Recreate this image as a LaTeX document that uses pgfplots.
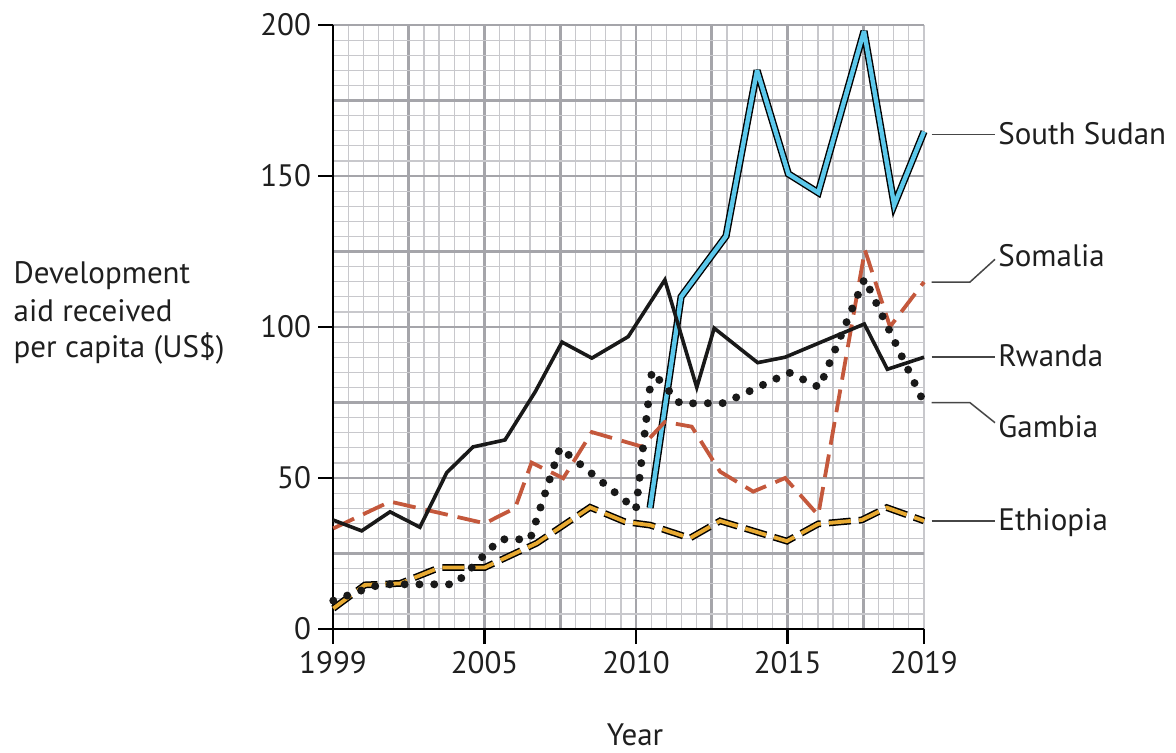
\documentclass[border=0pt]{standalone}
\usepackage{fontspec}
\setmainfont{PT Sans}
\usepackage{pgfplots}
\pgfplotsset{compat=1.18}
\usepackage{pgfplotstable}

\definecolor{gridmaj}{RGB}{165,165,170}
\definecolor{gridmin}{RGB}{200,200,204}
\definecolor{sscyan}{RGB}{92,200,235}
\definecolor{somred}{RGB}{196,88,60}
\definecolor{ethorange}{RGB}{232,170,50}
\definecolor{leader}{RGB}{70,70,70}

\pgfplotstableread{
x y
1999.00 36.1
1999.97 32.5
2000.93 38.8
2001.94 33.7
2002.85 51.8
2003.74 60.3
2004.82 62.6
2005.84 78.5
2006.75 95.0
2007.76 89.7
2008.99 96.8
2010.23 115.6
2011.31 80.0
2011.90 99.6
2013.37 88.2
2014.30 90.0
2016.98 101.0
2017.76 86.0
2019.00 90.0
}\rwanda

\pgfplotstableread{
x y
2009.73 40.1
2010.78 110.0
2012.30 130.1
2013.35 185.0
2014.41 150.7
2015.42 144.5
2016.97 198.0
2017.99 140.4
2019.00 164.7
}\southsudan

\pgfplotstableread{
x y
1999.01 33.3
2000.93 42.2
2004.14 35.0
2005.16 40.0
2005.72 55.1
2006.79 49.9
2007.76 65.2
2009.45 60.4
2010.23 68.6
2011.14 67.0
2012.10 52.1
2013.22 45.5
2014.30 50.0
2015.42 37.7
2017.00 125.5
2017.85 100.1
2019.00 114.9
}\somalia

\pgfplotstableread{
x y
1999.01 9.4
2000.31 14.0
2000.76 14.8
2003.13 14.8
2004.65 29.7
2005.67 29.7
2006.68 60.0
2009.25 39.6
2009.79 85.3
2010.74 74.7
2012.23 74.8
2014.44 84.9
2015.46 80.0
2016.99 116.0
2018.98 75.3
}\gambia

\pgfplotstableread{
x y
1999.01 6.8
2000.08 14.6
2001.27 15.1
2002.62 20.4
2004.14 20.4
2005.89 28.4
2007.70 40.3
2008.88 35.5
2009.73 34.4
2011.08 30.1
2012.10 35.8
2014.36 29.1
2015.42 34.8
2016.89 36.1
2017.74 40.2
2019.00 35.8
}\ethiopia

\begin{document}
\begin{tikzpicture}[x=1pt,y=1pt]
\useasboundingbox (0pt,0pt) rectangle (588pt,376pt);
% grid
\begin{axis}[at={(166.5pt,61.5pt)}, anchor=south west, scale only axis,
  width=295.5pt, height=302pt,
  xmin=0, xmax=39, ymin=0, ymax=200,
  xtick={0,5,...,35}, minor xtick={0,1,...,39},
  ytick={0,25,...,200}, minor ytick={0,5,...,200},
  grid=both,
  major grid style={line width=1.4pt, draw=gridmaj},
  minor grid style={line width=0.6pt, draw=gridmin},
  xticklabels={}, yticklabels={},
  major tick length=0pt, minor tick length=0pt,
  tick style={draw=none},
  axis line style={draw=none}]
\end{axis}
% data
\begin{axis}[at={(166.5pt,61.5pt)}, anchor=south west, scale only axis,
  width=295.5pt, height=302pt,
  xmin=1999, xmax=2019, ymin=0, ymax=200,
  axis x line=bottom, axis y line=left,
  axis line style={-, line width=1.3pt, black},
  xtick={1999,2004.1282,2009.2564,2014.3846,2019},
  xticklabels={1999,2005,2010,2015,2019},
  ytick={0,50,100,150,200},
  yticklabels={0,50,100,150,200},
  tick align=outside, major tick length=7.5pt,
  minor tick num=0,
  tick style={black, line width=1.3pt},
  ticklabel style={font=\fontsize{15.5}{18}\selectfont, text=black!88},
  clip=false]
\addplot[black, line width=3.6pt, mark=none, miter limit=4] table[x=x,y=y] {\southsudan};
\addplot[sscyan, line width=2.2pt, mark=none, miter limit=4] table[x=x,y=y] {\southsudan};
\addplot[black, line width=3.4pt, mark=none, dash pattern=on 11pt off 4pt] table[x=x,y=y] {\ethiopia};
\addplot[ethorange, line width=1.9pt, mark=none, dash pattern=on 11pt off 4pt] table[x=x,y=y] {\ethiopia};
\addplot[somred, line width=1.9pt, mark=none, dash pattern=on 11.5pt off 5pt] table[x=x,y=y] {\somalia};
\addplot[black!90, line width=1.8pt, mark=none] table[x=x,y=y] {\rwanda};
\addplot[black!90, line width=4pt, mark=none, line cap=round, dash pattern=on 0pt off 7.4pt] table[x=x,y=y] {\gambia};
\end{axis}
% y label
\begin{scope}[every node/.style={font=\fontsize{15.5}{18}\selectfont, text=black!88, inner sep=0pt}]
\node[anchor=base west] at (6.65pt,234.35pt) {Development};
\node[anchor=base west] at (6.65pt,215.15pt) {aid received};
\node[anchor=base west] at (6.65pt,197.35pt) {per capita (US\$)};
\node[anchor=base] at (317.5pt,3.5pt) {Year};
\node[anchor=base west] at (499pt,304pt) {South Sudan};
\node[anchor=base west] at (499pt,242.7pt) {Somalia};
\node[anchor=base west] at (499pt,193pt) {Rwanda};
\node[anchor=base west] at (499pt,157.2pt) {Gambia};
\node[anchor=base west] at (499pt,111pt) {Ethiopia};
\end{scope}
\begin{scope}[draw=leader, line width=0.75pt]
\draw (465.85pt,308.85pt) -- (497.5pt,308.85pt);
\draw (465.85pt,235pt) -- (485pt,235pt) -- (497.5pt,246.35pt);
\draw (465.85pt,197.5pt) -- (497.5pt,197.5pt);
\draw (465.85pt,174.65pt) -- (485pt,174.65pt) -- (497.5pt,164.65pt);
\draw (465.85pt,115.5pt) -- (497.5pt,115.5pt);
\end{scope}
\end{tikzpicture}
\end{document}
